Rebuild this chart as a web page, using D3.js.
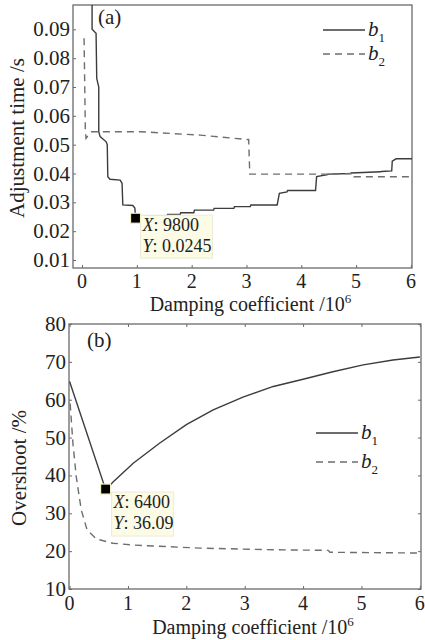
<!DOCTYPE html>
<html><head><meta charset="utf-8">
<script src="https://cdn.jsdelivr.net/npm/d3@7"></script>
<style>
body{margin:0;background:#fff;}
</style></head>
<body><svg id="c" width="425" height="640" font-family="'Liberation Serif', 'DejaVu Serif', serif"></svg>
<script>
// ---- Panel (a): adjustment time ----
const aTicksX = [0,1,2,3,4,5,6];
const aTicksY = [0.01,0.02,0.03,0.04,0.05,0.06,0.07,0.08,0.09];
const aB1x = [0.183,0.183,0.256,0.268,0.305,0.305,0.33,0.44,0.46,0.47,0.51,0.695,0.73,0.744,0.927,0.963,0.976,1.06,1.55,1.56,1.79,1.80,2.04,2.05,2.40,2.41,2.77,2.78,3.07,3.08,3.56,3.60,3.74,3.75,3.93,3.94,4.26,4.28,4.48,4.49,4.90,4.91,5.45,5.46,5.65,5.66,5.73,6.03];
const aB1y = [0.1,0.090,0.0886,0.073,0.070,0.0545,0.0528,0.051,0.050,0.0389,0.038,0.0377,0.0366,0.0291,0.0289,0.028,0.0252,0.0253,0.0253,0.0258,0.0258,0.0264,0.0264,0.0273,0.0273,0.0279,0.0279,0.0285,0.0285,0.0291,0.0291,0.0331,0.0336,0.0341,0.0341,0.0341,0.0341,0.0389,0.0396,0.0398,0.040,0.0402,0.0406,0.0407,0.0409,0.0443,0.0451,0.0451];
const aB2x = [0.037,0.06,0.073,0.116,0.177,1.06,2.16,3.01,3.04,3.06,4.6,4.96,4.96,6.03];
const aB2y = [0.0869,0.0551,0.0522,0.0533,0.0545,0.0545,0.0533,0.0518,0.0518,0.0398,0.0398,0.0400,0.0389,0.0389];
const aMark = {x:0.976, y:0.0245, lx:"9800", ly:"0.0245"};

// ---- Panel (b): overshoot ----
const bTicksX = [0,1,2,3,4,5,6];
const bTicksY = [10,20,30,40,50,60,70,80];
const bB1x = [0,0.6,0.64,0.74,1.09,1.54,2.0,2.46,2.97,3.49,4.0,4.51,5.03,5.54,6.0];
const bB1y = [64.8,37.1,36.5,38.2,43.2,48.5,53.4,57.3,60.7,63.5,65.4,67.4,69.2,70.5,71.3];
const bB2x = [0.01,0.057,0.114,0.2,0.3,0.46,0.74,1.09,2.23,3.37,4.43,4.46,6.0];
const bB2y = [59,48.5,39.7,30.9,25.6,23.2,22.1,21.6,20.8,20.4,20.2,19.7,19.5];
const bMark = {x:0.617, y:36.4, lx:"6400", ly:"36.09"};

const legendNames = ["b","b"];
const legendSubs = ["1","2"];

const svg = d3.select("#c");
const frameC = "#6a6a6a", lineC = "#3c3c3c", dashC = "#6e6e6e", textC = "#222";
const fs = 21, fsx = 20, fsTip = 18;

function panel(o){
  const g = svg.append("g").attr("fill",textC);
  const x = d3.scaleLinear().domain(o.xd).range([o.L,o.R]);
  const y = d3.scaleLinear().domain(o.yd).range([o.B,o.T]);
  const tl = 3;
  const strip = s=>{s.select(".domain").remove(); s.selectAll("line").attr("stroke",frameC);};
  g.append("g").attr("transform",`translate(0,${o.B})`)
    .call(d3.axisBottom(x).tickValues(o.tx).tickSize(-tl).tickFormat("")).call(strip);
  g.append("g").attr("transform",`translate(${o.L},0)`)
    .call(d3.axisLeft(y).tickValues(o.ty).tickSize(-tl).tickFormat("")).call(strip);
  if(o.allTicks){
    g.append("g").attr("transform",`translate(0,${o.T})`)
      .call(d3.axisTop(x).tickValues(o.tx).tickSize(-tl).tickFormat("")).call(strip);
    g.append("g").attr("transform",`translate(${o.R},0)`)
      .call(d3.axisRight(y).tickValues(o.ty).tickSize(-tl).tickFormat("")).call(strip);
  }
  g.append("rect").attr("x",o.L).attr("y",o.T).attr("width",o.R-o.L).attr("height",o.B-o.T)
    .attr("fill","none").attr("stroke",frameC).attr("stroke-width",1.3);
  g.selectAll(".xl").data(o.tx).enter().append("text")
    .attr("x",d=>x(d)).attr("y",o.xlY).attr("text-anchor","middle").attr("font-size",fsx).text(d=>d);
  g.selectAll(".yl").data(o.ty).enter().append("text")
    .attr("x",o.L-3).attr("y",d=>y(d)+7).attr("text-anchor","end").attr("font-size",fs).text(o.yfmt);
  const xt = g.append("text").attr("x",(o.L+o.R)/2+8).attr("y",o.xtY).attr("text-anchor","middle").attr("font-size",fsx);
  xt.append("tspan").text("Damping coefficient /10");
  xt.append("tspan").attr("dy",-8).attr("font-size",13).text("6");
  g.append("text").attr("transform",`translate(${o.ytX},${o.ytY}) rotate(-90)`)
    .attr("text-anchor","middle").attr("font-size",fs).text(o.ytitle);
  const cid = "clip"+o.id;
  svg.append("clipPath").attr("id",cid).append("rect").attr("x",o.L).attr("y",o.T).attr("width",o.R-o.L).attr("height",o.B-o.T);
  const line = d3.line().x(d=>x(d[0])).y(d=>y(d[1]));
  g.append("path").attr("clip-path",`url(#${cid})`).datum(d3.zip(o.b1x,o.b1y)).attr("d",line)
    .attr("fill","none").attr("stroke",lineC).attr("stroke-width",1.4);
  g.append("path").attr("clip-path",`url(#${cid})`).datum(d3.zip(o.b2x,o.b2y)).attr("d",line)
    .attr("fill","none").attr("stroke",dashC).attr("stroke-width",1.4).attr("stroke-dasharray","7,5");
  g.append("text").attr("x",o.plX).attr("y",o.plY).attr("font-size",fs).text(o.pl);
  o.leg.forEach((ly,i)=>{
    g.append("line").attr("x1",o.legX).attr("x2",o.legX+42).attr("y1",ly).attr("y2",ly)
      .attr("stroke",i?dashC:lineC).attr("stroke-width",1.4).attr("stroke-dasharray",i?"7,5":null);
    const t = g.append("text").attr("x",o.legX+45).attr("y",ly+6).attr("font-size",fs);
    t.append("tspan").attr("font-style","italic").text(legendNames[i]);
    t.append("tspan").attr("dy",6).attr("font-size",13).text(legendSubs[i]);
  });
  const m = o.mark;
  const bx = x(m.x)+o.boxDx, by = y(m.y)+o.boxDy;
  g.append("rect").attr("x",bx).attr("y",by).attr("width",o.boxW).attr("height",o.boxH)
    .attr("fill","#fbfbe6").attr("stroke","#ecebd6").attr("stroke-width",1);
  [["X",m.lx],["Y",m.ly]].forEach((p,i)=>{
    const t = g.append("text").attr("x",bx+2).attr("y",by+16+i*21).attr("font-size",fsTip);
    t.append("tspan").attr("font-style","italic").text(p[0]);
    t.append("tspan").text(": "+p[1]);
  });
  g.append("rect").attr("x",x(m.x)-5).attr("y",y(m.y)-5).attr("width",10).attr("height",10)
    .attr("fill","#000").attr("stroke","#f3f0c8").attr("stroke-width",1.2);
}

panel({id:"a", L:73, R:412, T:5, B:268, xd:[-0.165,6.02], yd:[0.00723,0.09844],
  tx:aTicksX, ty:aTicksY, yfmt:d=>d3.format(".2f")(d), xlY:288, xtY:311,
  ytX:24, ytY:138, ytitle:"Adjustment time /s",
  b1x:aB1x,b1y:aB1y,b2x:aB2x,b2y:aB2y, pl:"(a)", plX:98, plY:24,
  legX:323, leg:[30,54], mark:aMark, boxDx:5, boxDy:-3, boxW:72, boxH:43, allTicks:false});

panel({id:"b", L:69, R:421, T:324, B:589, xd:[-0.01,6.02], yd:[10,80],
  tx:bTicksX, ty:bTicksY, yfmt:d=>d, xlY:610, xtY:634,
  ytX:26, ytY:468, ytitle:"Overshoot /%",
  b1x:bB1x,b1y:bB1y,b2x:bB2x,b2y:bB2y, pl:"(b)", plX:87, plY:347,
  legX:316, leg:[433,462], mark:bMark, boxDx:6, boxDy:3, boxW:62, boxH:44, allTicks:true});
</script></body></html>
